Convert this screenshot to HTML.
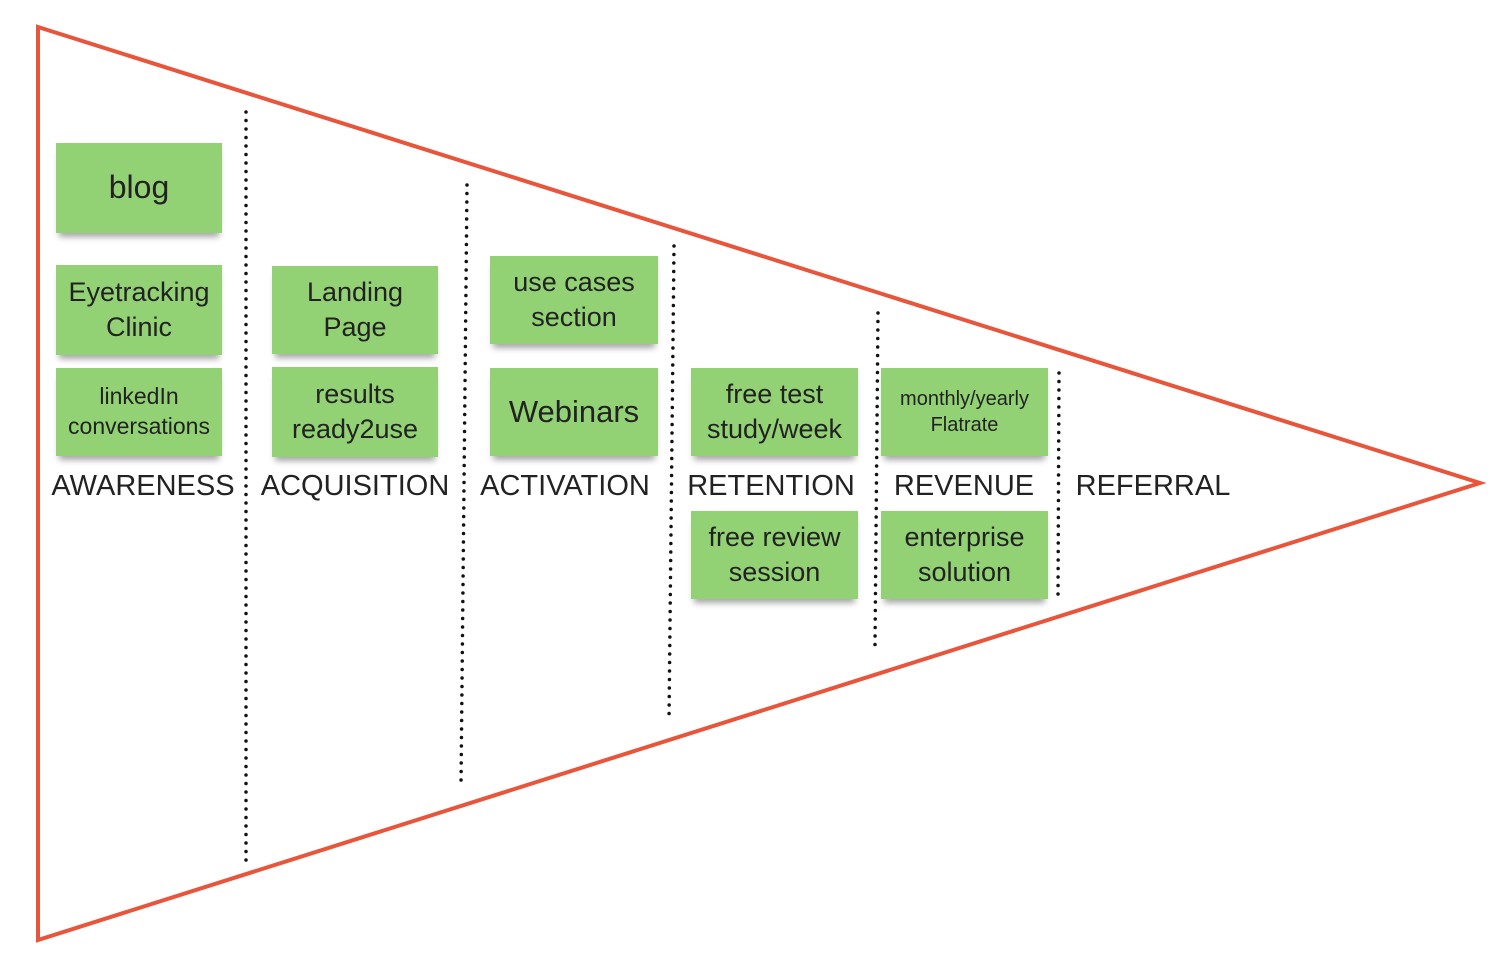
<!DOCTYPE html>
<html><head><style>
body{margin:0;width:1491px;height:965px;background:#fff;position:relative;overflow:hidden;font-family:"Liberation Sans","DejaVu Sans",sans-serif;}
.n{position:absolute;background:#92d275;display:flex;align-items:center;justify-content:center;text-align:center;color:#222;box-shadow:0 7px 6px -3px rgba(0,0,0,0.35);line-height:1.3;}
.l{position:absolute;top:470px;font-size:29px;color:#222;transform:translateX(-50%);white-space:nowrap;}
</style></head><body>
<svg width="1491" height="965" style="position:absolute;left:0;top:0">
<polygon points="38,27 1480,483 38,940" fill="none" stroke="#e8553a" stroke-width="4"/>
<g stroke="#111" stroke-width="3.5" stroke-linecap="round" stroke-dasharray="0 8.5">
<line x1="246" y1="112" x2="246" y2="864"/>
<line x1="467" y1="185" x2="461" y2="785"/>
<line x1="674" y1="246" x2="669" y2="720"/>
<line x1="878" y1="313" x2="875" y2="645"/>
<line x1="1059" y1="373" x2="1058" y2="597"/>
</g></svg>
<div class="n" style="left:56px;top:143px;width:166px;height:90px;font-size:32px">blog</div>
<div class="n" style="left:56px;top:265px;width:166px;height:90px;font-size:27px">Eyetracking<br>Clinic</div>
<div class="n" style="left:56px;top:368px;width:166px;height:88px;font-size:23px">linkedIn<br>conversations</div>
<div class="n" style="left:272px;top:266px;width:166px;height:88px;font-size:27px">Landing<br>Page</div>
<div class="n" style="left:272px;top:367px;width:166px;height:90px;font-size:27px">results<br>ready2use</div>
<div class="n" style="left:490px;top:256px;width:168px;height:88px;font-size:27px">use cases<br>section</div>
<div class="n" style="left:490px;top:368px;width:168px;height:88px;font-size:31px">Webinars</div>
<div class="n" style="left:691px;top:368px;width:167px;height:88px;font-size:27px">free test<br>study/week</div>
<div class="n" style="left:691px;top:511px;width:167px;height:88px;font-size:27px">free review<br>session</div>
<div class="n" style="left:881px;top:368px;width:167px;height:88px;font-size:20px">monthly/yearly<br>Flatrate</div>
<div class="n" style="left:881px;top:511px;width:167px;height:88px;font-size:27px">enterprise<br>solution</div>
<div class="l" style="left:143px">AWARENESS</div>
<div class="l" style="left:355px">ACQUISITION</div>
<div class="l" style="left:565px">ACTIVATION</div>
<div class="l" style="left:771px">RETENTION</div>
<div class="l" style="left:964px">REVENUE</div>
<div class="l" style="left:1153px">REFERRAL</div>
</body></html>
